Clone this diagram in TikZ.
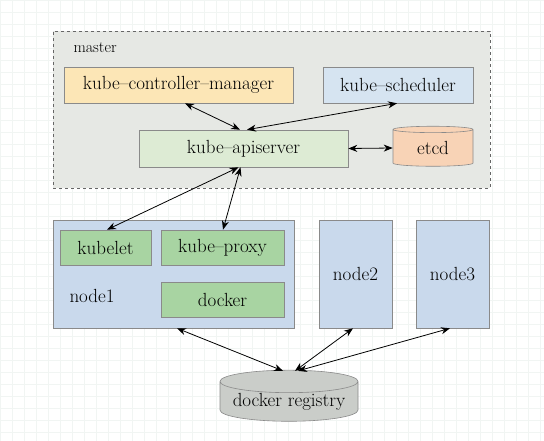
\documentclass[tikz,border=0pt]{standalone}
\usetikzlibrary{arrows.meta,shapes.geometric,calc}
\definecolor{bggrid}{HTML}{F1F5F3}
\definecolor{masterfill}{HTML}{E6E8E4}
\definecolor{ctrlfill}{HTML}{FCE6B6}
\definecolor{schedfill}{HTML}{D6E4F1}
\definecolor{apifill}{HTML}{DDEBD4}
\definecolor{etcdfill}{HTML}{F8D3B6}
\definecolor{nodefill}{HTML}{C9D9EC}
\definecolor{greenfill}{HTML}{A8D4A2}
\definecolor{regfill}{HTML}{CACDC9}
\definecolor{edge}{HTML}{8A8A8A}
\begin{document}
\begin{tikzpicture}[x=1pt,y=-1pt,
  every node/.style={font=\fontsize{19}{22}\selectfont},
  box/.style={draw=edge,line width=0.6pt,rectangle,inner sep=0pt},
  cyl/.style={draw=edge,line width=0.6pt,cylinder,shape border rotate=90,aspect=0.2,inner sep=0pt},
  link/.style={{Stealth[length=9pt,width=7pt]}-{Stealth[length=9pt,width=7pt]},line width=0.8pt,black}
]
\fill[white] (0,0) rectangle (544,441);
\useasboundingbox (0,0) rectangle (544,441);
\draw[bggrid,line width=0.4pt,step=12pt] (0,0) grid (544,441);

% master
\node[box,draw=black!60,dashed,fill=masterfill,minimum width=437pt,minimum height=157pt] (master) at (271.5,109.5) {};
\node[font=\fontsize{16}{19}\selectfont,anchor=west] (mlabel) at (70,48) {master};

\node[box,fill=ctrlfill,minimum width=229pt,minimum height=36pt] (ctrl) at (178.5,85) {kube--controller--manager};
\node[box,fill=schedfill,minimum width=150pt,minimum height=36pt] (sched) at (398,85) {kube--scheduler};
\node[box,fill=apifill,minimum width=209pt,minimum height=37pt] (api) at (243.5,148.5) {kube--apiserver};
\node[cyl,fill=etcdfill,minimum width=80pt,minimum height=40pt] (etcd) at (433,148) {etcd};

% node1
\node[box,fill=nodefill,minimum width=241pt,minimum height=108pt] (node1) at (173.5,274) {};
\node[anchor=west] (n1label) at (66,296) {node1};
\node[box,fill=greenfill,minimum width=91pt,minimum height=35pt] (kubelet) at (105.5,247.5) {kubelet};
\node[box,fill=greenfill,minimum width=123pt,minimum height=35pt] (kproxy) at (222.5,247.5) {kube--proxy};
\node[box,fill=greenfill,minimum width=123pt,minimum height=35pt] (docker) at (222.5,299.5) {docker};

\node[box,fill=nodefill,minimum width=73pt,minimum height=108pt] (node2) at (355.5,274) {node2};
\node[box,fill=nodefill,minimum width=73pt,minimum height=108pt] (node3) at (452.5,274) {node3};

\node[cyl,fill=regfill,minimum width=138pt,minimum height=48pt] (reg) at (289,401.5) {docker registry};

% connectors
\draw[link] ([xshift=6.5pt]ctrl.south) -- ([xshift=-3.5pt]api.north);
\draw[link] ([xshift=-1pt]sched.south) -- ([xshift=3.5pt]api.north);
\draw[link] (api.east) -- (etcd.west);
\draw[link] ([xshift=-5pt]api.south) -- ([xshift=1.5pt]kubelet.north);
\draw[link] ([xshift=-3pt]api.south) -- ([xshift=0.5pt]kproxy.north);
\draw[link] ([xshift=3.5pt]node1.south) -- ([xshift=-6pt,yshift=-1pt]reg.north);
\draw[link] ([xshift=-2.5pt]node2.south) -- ([xshift=6pt,yshift=-1pt]reg.north);
\draw[link] ([xshift=-2.5pt]node3.south) -- ([xshift=9pt,yshift=-1pt]reg.north);
\end{tikzpicture}
\end{document}
